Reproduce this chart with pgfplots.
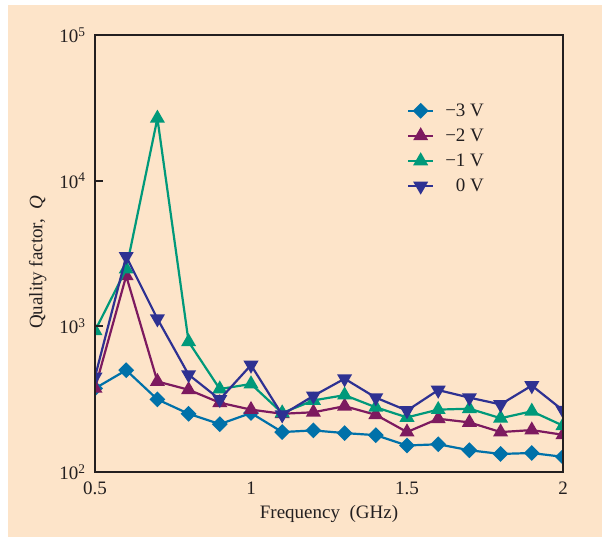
\documentclass[border=0pt]{standalone}
\usepackage{fontspec}
\setmainfont{Liberation Serif}
\usepackage{pgfplots}
\pgfplotsset{compat=1.18}

\definecolor{bgpeach}{HTML}{FDE4C9}
\definecolor{frame}{HTML}{231F20}
\definecolor{vthree}{HTML}{0071A9}
\definecolor{vtwo}{HTML}{7D1A5F}
\definecolor{vone}{HTML}{00997A}
\definecolor{vzero}{HTML}{2E3192}

\newcommand{\chartfont}{\fontsize{19}{23}\selectfont}

\begin{document}
\begin{tikzpicture}
  % page: white margin round a peach panel
  \fill[white] (0pt,0pt) rectangle (608pt,537pt);
  \fill[bgpeach] (8pt,0pt) rectangle (602pt,532pt);

  \begin{axis}[
      at={(95pt,65pt)}, anchor=south west,
      scale only axis, width=468pt, height=437pt,
      ymode=log,
      xmin=0.5, xmax=2, ymin=100, ymax=100000,
      xtick={0.5,1,1.5,2},
      xticklabels={0.5,1,1.5,2},
      ytick={100,1000,10000,100000},
      yticklabels={10\textsuperscript{2},10\textsuperscript{3},10\textsuperscript{4},10\textsuperscript{5}},
      minor y tick num=0,
      minor tick style={draw=none},
      xtick style={draw=none},
      ytick style={line width=2pt, color=frame},
      major tick length=8pt,
      tick pos=left, tick align=inside,
      axis line style={line width=2.5pt, color=frame},
      axis on top,
      clip marker paths=true,
      font=\chartfont,
      tick label style={font=\chartfont, text=frame},
      xticklabel style={yshift=-6pt},
      yticklabel style={xshift=-6pt},
      /pgf/number format/assume math mode=true,
      xlabel={Frequency\ \ (GHz)},
      ylabel={Quality factor,\ \ \textit{Q}},
      label style={font=\chartfont, text=frame},
      xlabel style={yshift=-4pt},
      ylabel style={yshift=6pt, at={(ticklabel cs:0.48)}},
      every axis plot/.append style={line width=2.2pt},
      legend style={draw=none, fill=none, font=\chartfont,
        at={(rel axis cs:0.66,0.85)}, anchor=north west,
        row sep=9pt, nodes={inner sep=1pt, text=frame},
        /tikz/every odd column/.append style={column sep=10pt}},
      legend cell align=right,
      legend image code/.code={
        \draw[mark repeat=2,mark phase=2,#1]
          plot coordinates {(0pt,0pt) (12.5pt,0pt) (25pt,0pt)};},
    ]

    % -3 V
    \addplot[color=vthree, mark=square*, mark size=4.5pt, mark options={rotate=45}]
      coordinates {
        (0.5,375) (0.6,500) (0.7,315) (0.8,251) (0.9,213) (1.0,254)
        (1.1,188) (1.2,193) (1.3,185) (1.4,179) (1.5,152) (1.6,155)
        (1.7,141) (1.8,133) (1.9,135) (2.0,127)
      };
    \addlegendentry{−3 V}

    % -2 V
    \addplot[color=vtwo, mark=triangle*, mark size=6.5pt]
      coordinates {
        (0.5,375) (0.6,2220) (0.7,418) (0.8,367) (0.9,299) (1.0,268)
        (1.1,251) (1.2,257) (1.3,283) (1.4,247) (1.5,188) (1.6,232)
        (1.7,219) (1.8,188) (1.9,194) (2.0,180)
      };
    \addlegendentry{−2 V}

    % -1 V
    \addplot[color=vone, mark=triangle*, mark size=6.5pt]
      coordinates {
        (0.5,931) (0.6,2470) (0.7,26800) (0.8,783) (0.9,371) (1.0,402)
        (1.1,254) (1.2,310) (1.3,337) (1.4,278) (1.5,237) (1.6,268)
        (1.7,272) (1.8,234) (1.9,261) (2.0,208)
      };
    \addlegendentry{−1 V}

    % 0 V
    \addplot[color=vzero, mark=triangle*, mark size=6.5pt, mark options={rotate=180}]
      coordinates {
        (0.5,449) (0.6,3020) (0.7,1127) (0.8,466) (0.9,315) (1.0,542)
        (1.1,247) (1.2,333) (1.3,437) (1.4,324) (1.5,264) (1.6,365)
        (1.7,324) (1.8,291) (1.9,392) (2.0,265)
      };
    \addlegendentry{0 V}
  \end{axis}
\end{tikzpicture}
\end{document}
